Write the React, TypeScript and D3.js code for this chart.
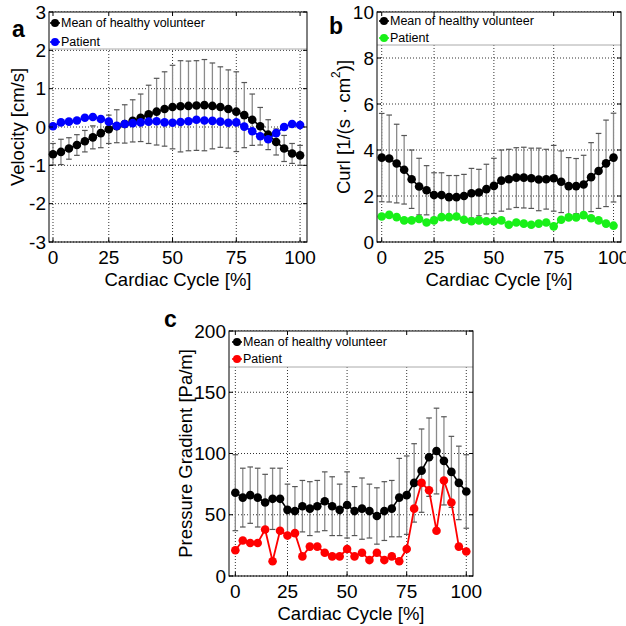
import React from "react";
import * as d3 from "d3";

// ---------- data ----------
const SAMPLE_INDEX = [0, 1, 2, 3, 4, 5, 6, 7, 8, 9, 10, 11, 12, 13, 14, 15, 16, 17, 18, 19, 20, 21, 22, 23, 24, 25, 26, 27, 28, 29, 30, 31];
const X_TICK_INDEX = [0, 7, 15, 23, 31];
const X_TICK_LABELS = ["0", "25", "50", "75", "100"];
const LEGEND_LABELS = ["Mean of healthy volunteer", "Patient"];

const VEL_HEALTHY = [-0.71, -0.65, -0.56, -0.47, -0.37, -0.27, -0.16, -0.06, 0.02, 0.08, 0.16, 0.24, 0.33, 0.4, 0.47, 0.52, 0.54, 0.55, 0.56, 0.57, 0.55, 0.52, 0.47, 0.4, 0.31, 0.19, 0.02, -0.2, -0.39, -0.56, -0.69, -0.74];
const VEL_HEALTHY_SD = [0.28, 0.33, 0.28, 0.27, 0.28, 0.3, 0.38, 0.37, 0.43, 0.5, 0.55, 0.62, 0.76, 0.87, 0.97, 1.09, 1.19, 1.17, 1.17, 1.19, 1.12, 1.05, 1.02, 1.04, 0.85, 0.67, 0.49, 0.39, 0.34, 0.34, 0.26, 0.26];
const VEL_PATIENT = [0.02, 0.12, 0.14, 0.17, 0.24, 0.26, 0.21, 0.14, 0.03, 0.08, 0.1, 0.12, 0.14, 0.15, 0.12, 0.11, 0.13, 0.15, 0.19, 0.17, 0.16, 0.14, 0.11, 0.12, 0.01, -0.11, -0.24, -0.32, -0.16, 0.0, 0.08, 0.05];
const VEL_TICKS = [-3, -2, -1, 0, 1, 2, 3];

const CURL_HEALTHY = [3.67, 3.63, 3.41, 3.14, 2.73, 2.41, 2.25, 2.04, 2.04, 1.95, 1.95, 2.0, 2.12, 2.15, 2.3, 2.44, 2.67, 2.73, 2.8, 2.8, 2.77, 2.72, 2.73, 2.77, 2.62, 2.43, 2.43, 2.5, 2.82, 3.09, 3.42, 3.67];
const CURL_HEALTHY_SD = [1.92, 1.89, 1.71, 1.49, 1.27, 1.23, 1.07, 0.97, 0.97, 0.94, 0.94, 0.94, 1.08, 1.01, 1.08, 1.2, 1.33, 1.3, 1.3, 1.32, 1.31, 1.36, 1.3, 1.43, 1.34, 1.24, 1.2, 1.27, 1.5, 1.63, 1.88, 1.93];
const CURL_PATIENT = [1.11, 1.18, 1.08, 0.94, 0.94, 1.0, 0.85, 0.94, 1.08, 1.08, 1.11, 0.97, 0.9, 0.94, 0.9, 0.9, 0.94, 0.75, 0.85, 0.8, 0.75, 0.8, 0.85, 0.68, 0.97, 1.07, 1.07, 1.17, 1.03, 0.94, 0.8, 0.71];
const CURL_TICKS = [0, 2, 4, 6, 8, 10];

const PG_HEALTHY = [68, 64, 66, 64, 60, 63, 63, 54, 53, 57, 55, 57, 61, 57, 54, 58, 53, 55, 53, 49, 53, 55, 64, 66, 76, 86, 97, 102, 94, 85, 76, 69];
const PG_HEALTHY_SD = [31, 24, 23, 24, 23, 25, 25, 21, 20, 21, 22, 21, 24, 24, 21, 27, 20, 25, 22, 23, 24, 23, 32, 32, 32, 34, 32, 35, 36, 29, 30, 30];
const PG_PATIENT = [21, 29, 27, 27, 38, 12, 37, 33, 35, 16, 24, 24, 19, 16, 16, 22, 16, 19, 13, 19, 13, 16, 12, 22, 55, 76, 70, 37, 78, 60, 24, 20];
const PG_TICKS = [0, 50, 100, 150, 200];

const FONT = "'Liberation Sans', Arial, Helvetica, sans-serif";

type Box = { l: number; r: number; t: number; b: number };

type PanelProps = {
  box: Box;
  xDomain: [number, number];
  yDomain: [number, number];
  yTicks: number[];
  mean: number[];
  sd: number[];
  patient: number[];
  pColor: string;
  yLabel: React.ReactNode;
  yLabelX: number;
  letter: string;
  letterX: number;
  letterY: number;
  legendBottom: number;
  legendRowY: [number, number];
  legendX: number;
};

function Panel(p: PanelProps) {
  const { box } = p;
  const x = d3.scaleLinear().domain(p.xDomain).range([box.l, box.r]);
  const y = d3.scaleLinear().domain(p.yDomain).range([box.b, box.t]);
  const line = d3
    .line<number>()
    .x((_, i) => x(SAMPLE_INDEX[i]))
    .y((d) => y(d));
  const capW = 2.8;
  const r = 4.3;
  const tickLen = 4;
  const labelSize = 18.5;

  return (
    <g>
      {/* grid */}
      <g stroke="#333" strokeWidth={1} strokeDasharray="1 2">
        {X_TICK_INDEX.map((t, i) => (
          <line key={"gx" + i} x1={x(t)} x2={x(t)} y1={box.t} y2={box.b} />
        ))}
        {p.yTicks.map((t, i) => (
          <line key={"gy" + i} x1={box.l} x2={box.r} y1={y(t)} y2={y(t)} />
        ))}
      </g>
      {/* error bars */}
      <g>
        {p.mean.map((m, i) => {
          const cx = x(SAMPLE_INDEX[i]);
          const y1 = y(m - p.sd[i]);
          const y2 = y(m + p.sd[i]);
          return (
            <g key={"eb" + i}>
              <line x1={cx} x2={cx} y1={y1} y2={y2} stroke="#8a8a8a" strokeWidth={1.3} />
              <line x1={cx - capW} x2={cx + capW} y1={y1} y2={y1} stroke="#555" strokeWidth={1.2} />
              <line x1={cx - capW} x2={cx + capW} y1={y2} y2={y2} stroke="#555" strokeWidth={1.2} />
            </g>
          );
        })}
      </g>
      {/* healthy mean */}
      <path d={line(p.mean) || ""} fill="none" stroke="#000" strokeWidth={1.6} />
      {p.mean.map((m, i) => (
        <circle key={"mh" + i} cx={x(SAMPLE_INDEX[i])} cy={y(m)} r={r} fill="#000" />
      ))}
      {/* patient */}
      <path d={line(p.patient) || ""} fill="none" stroke={p.pColor} strokeWidth={1.8} />
      {p.patient.map((m, i) => (
        <circle key={"mp" + i} cx={x(SAMPLE_INDEX[i])} cy={y(m)} r={r} fill={p.pColor} />
      ))}
      {/* legend */}
      <rect x={box.l} y={box.t} width={box.r - box.l} height={p.legendBottom - box.t} fill="#fff" />
      <line x1={box.l} x2={box.r} y1={p.legendBottom} y2={p.legendBottom} stroke="#aaa" strokeWidth={1} />
      {LEGEND_LABELS.map((lab, i) => {
        const col = i === 0 ? "#000" : p.pColor;
        const ly = p.legendRowY[i];
        return (
          <g key={"lg" + i}>
            <line x1={p.legendX - 5} x2={p.legendX + 5} y1={ly} y2={ly} stroke={col} strokeWidth={1.6} />
            <circle cx={p.legendX} cy={ly} r={4} fill={col} />
            <text x={p.legendX + 6} y={ly} dominantBaseline="central" fontSize={12.5} fontFamily={FONT} fill="#000">
              {lab}
            </text>
          </g>
        );
      })}
      {/* frame */}
      <rect x={box.l} y={box.t} width={box.r - box.l} height={box.b - box.t} fill="none" stroke="#000" strokeWidth={1} />
      {/* ticks */}
      <g stroke="#000" strokeWidth={1}>
        {X_TICK_INDEX.map((t, i) => (
          <g key={"tx" + i}>
            <line x1={x(t)} x2={x(t)} y1={box.b} y2={box.b - tickLen} />
            <line x1={x(t)} x2={x(t)} y1={box.t} y2={box.t + tickLen} />
          </g>
        ))}
        {p.yTicks.map((t, i) => (
          <g key={"ty" + i}>
            <line x1={box.l} x2={box.l + tickLen} y1={y(t)} y2={y(t)} />
            <line x1={box.r} x2={box.r - tickLen} y1={y(t)} y2={y(t)} />
          </g>
        ))}
      </g>
      {/* tick labels */}
      {X_TICK_INDEX.map((t, i) => (
        <text key={"xl" + i} x={x(t)} y={box.b + 22} textAnchor="middle" fontSize={19} fontFamily={FONT} fill="#000">
          {X_TICK_LABELS[i]}
        </text>
      ))}
      {p.yTicks.map((t, i) => (
        <text key={"yl" + i} x={box.l - 3} y={y(t)} textAnchor="end" dominantBaseline="central" fontSize={19} fontFamily={FONT} fill="#000">
          {String(t)}
        </text>
      ))}
      {/* axis labels */}
      <text x={(box.l + box.r) / 2} y={box.b + 44} textAnchor="middle" fontSize={labelSize} fontFamily={FONT} fill="#000">
        Cardiac Cycle [%]
      </text>
      <text
        transform={`translate(${p.yLabelX},${(box.t + box.b) / 2}) rotate(-90)`}
        textAnchor="middle"
        dominantBaseline="central"
        fontSize={labelSize}
        fontFamily={FONT}
        fill="#000"
      >
        {p.yLabel}
      </text>
      <text x={p.letterX} y={p.letterY} fontSize={23} fontWeight="bold" fontFamily={FONT} fill="#000">
        {p.letter}
      </text>
    </g>
  );
}

export default function App() {
  return (
    <div style={{ position: "absolute", left: 0, top: 0 }}>
      <svg width={626} height={626} viewBox="0 0 626 626" style={{ display: "block", background: "#fff" }}>
        <rect x={0} y={0} width={626} height={626} fill="#fff" />
        <Panel
          box={{ l: 49, r: 307, t: 12, b: 242 }}
          xDomain={[-0.5, 31.87]}
          yDomain={[-3, 3]}
          yTicks={VEL_TICKS}
          mean={VEL_HEALTHY}
          sd={VEL_HEALTHY_SD}
          patient={VEL_PATIENT}
          pColor="#0000ff"
          yLabel="Velocity [cm/s]"
          yLabelX={17}
          letter="a"
          letterX={12}
          letterY={37}
          legendBottom={49}
          legendRowY={[23, 42]}
          legendX={55}
        />
        <Panel
          box={{ l: 377, r: 621, t: 12, b: 242 }}
          xDomain={[-0.63, 32.0]}
          yDomain={[0, 10]}
          yTicks={CURL_TICKS}
          mean={CURL_HEALTHY}
          sd={CURL_HEALTHY_SD}
          patient={CURL_PATIENT}
          pColor="#19f019"
          yLabel={
            <>
              <tspan>Curl [1/(s · cm</tspan>
              <tspan dy={-7} fontSize={12}>2</tspan>
              <tspan dy={7}>)]</tspan>
            </>
          }
          yLabelX={343}
          letter="b"
          letterX={329}
          letterY={34}
          legendBottom={45}
          legendRowY={[21, 38]}
          legendX={384}
        />
        <Panel
          box={{ l: 229, r: 473, t: 331, b: 576 }}
          xDomain={[-0.85, 31.9]}
          yDomain={[0, 200]}
          yTicks={PG_TICKS}
          mean={PG_HEALTHY}
          sd={PG_HEALTHY_SD}
          patient={PG_PATIENT}
          pColor="#ff0000"
          yLabel="Pressure Gradient [Pa/m]"
          yLabelX={185}
          letter="c"
          letterX={164}
          letterY={327}
          legendBottom={367}
          legendRowY={[342, 359]}
          legendX={237}
        />
      </svg>
    </div>
  );
}
